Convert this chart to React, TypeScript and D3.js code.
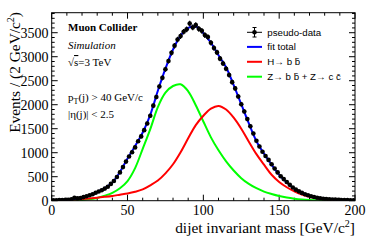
import React from "react";
import * as d3 from "d3";

// pseudo-data, 2 GeV bins from 0 to 200 (bin i centred at 2i+1)
const binCounts = [
  8, 10, 12, 14, 17, 21, 28, 62, 48, 55,
  75, 92, 112, 135, 165, 192, 218, 252, 292, 350,
  410, 495, 590, 700, 815, 920, 1010, 1110, 1240, 1340,
  1470, 1610, 1770, 1980, 2160, 2380, 2560, 2740, 2910, 3080,
  3230, 3360, 3430, 3520, 3570, 3690, 3610, 3660, 3580, 3540,
  3450, 3410, 3290, 3180, 3090, 2960, 2860, 2750, 2620, 2470,
  2340, 2170, 2010, 1860, 1700, 1550, 1400, 1250, 1130, 1020,
  930, 850, 760, 670, 590, 510, 450, 390, 330, 275,
  230, 195, 162, 135, 112, 92, 76, 62, 52, 42,
  35, 30, 25, 22, 18, 15, 13, 12, 10, 8,
];

// fit curves sampled every 5 GeV
const curveMass = [
  0, 5, 10, 15, 20, 25, 30, 35, 40, 45, 50, 55, 60, 65, 70, 75, 80, 85, 90, 95, 100,
  105, 110, 115, 120, 125, 130, 135, 140, 145, 150, 155, 160, 165, 170, 175, 180, 185, 190, 195, 200,
];
const zCurve = [
  0, 0, 1, 4, 12, 28, 58, 105, 165, 260, 410, 680, 1080, 1490, 1950, 2250, 2390, 2425, 2280, 1990, 1650,
  1320, 1050, 820, 630, 470, 350, 260, 190, 140, 98, 66, 43, 27, 17, 10, 6, 3, 2, 1, 0,
];
const hCurve = [
  0, 3, 10, 22, 35, 48, 62, 80, 100, 125, 150, 185, 235, 320, 420, 570, 760, 1010, 1300, 1575, 1770,
  1920, 1975, 1900, 1730, 1500, 1230, 970, 750, 540, 390, 280, 195, 130, 82, 50, 28, 15, 8, 4, 2,
];
const totalCurve = [
  5, 8, 15, 35, 70, 115, 180, 260, 380, 600, 880, 1140, 1420, 1790, 2290, 2750, 3150, 3440, 3600, 3630, 3490,
  3290, 3030, 2780, 2410, 2010, 1610, 1240, 980, 750, 540, 380, 248, 160, 100, 62, 38, 24, 15, 10, 7,
];

const xTicks = [0, 50, 100, 150, 200];
const yTicks = [0, 500, 1000, 1500, 2000, 2500, 3000, 3500];

const W = 374;
const H = 240;
const left = 51.7;
const right = 355;
const top = 12.7;
const bottom = 200.7;

const serif = "'Liberation Serif', 'Times New Roman', serif";
const sans = "'Liberation Sans', Arial, sans-serif";

const App = () => {
  const x = d3.scaleLinear().domain([0, 200]).range([left, right]);
  const y = d3.scaleLinear().domain([0, 3917]).range([bottom, top]);

  const path = (vals: number[]) =>
    d3
      .line<number>()
      .x((_, i) => x(curveMass[i]))
      .y((v) => y(v))
      .curve(d3.curveCatmullRom)(vals) || "";

  const xMinor = d3.range(0, 201, 10);
  const yMinor = d3.range(0, 3901, 100);

  const legend = [
    { label: "fit total", color: "#0000ff" },
    { label: "H\u2192 b b\u0304", color: "#ff0000" },
    { label: "Z\u2192 b b\u0304 + Z\u2192 c c\u0304", color: "#00ff00" },
  ];

  return (
    <svg
      width={W}
      height={H}
      style={{ position: "absolute", left: 0, top: 0, background: "white" }}
    >
      <defs>
        <clipPath id="frame">
          <rect x={left} y={top} width={right - left} height={bottom - top} />
        </clipPath>
      </defs>

      {/* ticks */}
      <g stroke="black" strokeWidth={1}>
        {xMinor.map((t) => {
          const len = t % 50 === 0 ? 6 : 3;
          return (
            <g key={"x" + t}>
              <line x1={x(t)} x2={x(t)} y1={bottom} y2={bottom - len} />
              <line x1={x(t)} x2={x(t)} y1={top} y2={top + len} />
            </g>
          );
        })}
        {yMinor.map((t) => {
          const len = t % 500 === 0 ? 6 : 3;
          return (
            <g key={"y" + t}>
              <line x1={left} x2={left + len} y1={y(t)} y2={y(t)} />
              <line x1={right} x2={right - len} y1={y(t)} y2={y(t)} />
            </g>
          );
        })}
      </g>

      {/* curves */}
      <g clipPath="url(#frame)" fill="none" strokeWidth={2}>
        <path d={path(zCurve)} stroke="#00ff00" />
        <path d={path(hCurve)} stroke="#ff0000" />
        <path d={path(totalCurve)} stroke="#0000ff" />
      </g>

      {/* pseudo-data */}
      <g clipPath="url(#frame)" stroke="black" strokeWidth={1.2}>
        {binCounts.map((n, i) => {
          const m = 2 * i + 1;
          const err = Math.sqrt(n);
          return (
            <g key={i}>
              <line x1={x(m - 1)} x2={x(m + 1)} y1={y(n)} y2={y(n)} />
              <line x1={x(m)} x2={x(m)} y1={y(n - err)} y2={y(n + err)} />
              <circle cx={x(m)} cy={y(n)} r={2.3} fill="black" stroke="none" />
            </g>
          );
        })}
      </g>

      <rect
        x={left}
        y={top}
        width={right - left}
        height={bottom - top}
        fill="none"
        stroke="black"
        strokeWidth={1}
      />

      {/* tick labels */}
      <g fontFamily={serif} fontSize={14} fill="black">
        {xTicks.map((t) => (
          <text key={t} x={x(t)} y={215} textAnchor="middle">
            {t}
          </text>
        ))}
        {yTicks.map((t) => (
          <text key={t} x={48.5} y={y(t) + 5} textAnchor="end">
            {t}
          </text>
        ))}
      </g>

      {/* axis titles */}
      <text
        fontFamily={serif}
        fontSize={15.4}
        x={right}
        y={232.5}
        textAnchor="end"
      >
        dijet invariant mass [GeV/c
        <tspan dy={-6} fontSize={10}>
          2
        </tspan>
        <tspan dy={6}>]</tspan>
      </text>
      <text
        fontFamily={serif}
        fontSize={15.4}
        textAnchor="end"
        transform={`translate(20,12) rotate(-90)`}
      >
        Events / (2 GeV/c
        <tspan dy={-6} fontSize={10}>
          2
        </tspan>
        <tspan dy={6}>)</tspan>
      </text>

      {/* annotations */}
      <g fontFamily={serif} fontSize={11} fill="black">
        <text x={68} y={31} fontWeight="bold">
          Muon Collider
        </text>
        <text x={68} y={48.5} fontStyle="italic">
          Simulation
        </text>
        <text x={68} y={66}>
          √<tspan style={{ textDecoration: "overline" }}>s</tspan>=3 TeV
        </text>
        <text x={68} y={101}>
          p
          <tspan dy={3} fontSize={8}>
            T
          </tspan>
          <tspan dy={-3}>(j) &gt; 40 GeV/c</tspan>
        </text>
        <text x={68} y={118}>
          |η(j)| &lt; 2.5
        </text>
      </g>

      {/* legend */}
      <g fontFamily={sans} fontSize={9.7}>
        <g stroke="black" strokeWidth={1}>
          <line x1={247} x2={262} y1={32.3} y2={32.3} />
          <line x1={254.5} x2={254.5} y1={27.5} y2={37} />
          <line x1={252.5} x2={256.5} y1={27.5} y2={27.5} />
          <line x1={252.5} x2={256.5} y1={37} y2={37} />
          <circle cx={254.5} cy={32.3} r={2.3} fill="black" stroke="none" />
        </g>
        <text x={267.3} y={35.8}>
          pseudo-data
        </text>
        {legend.map((d, i) => {
          const cy = 46.9 + i * 14.9;
          return (
            <g key={d.label}>
              <line x1={247} x2={262} y1={cy} y2={cy} stroke={d.color} strokeWidth={2} />
              <text x={267.3} y={cy + 3.5}>
                {d.label}
              </text>
            </g>
          );
        })}
      </g>
    </svg>
  );
};

export default App;
